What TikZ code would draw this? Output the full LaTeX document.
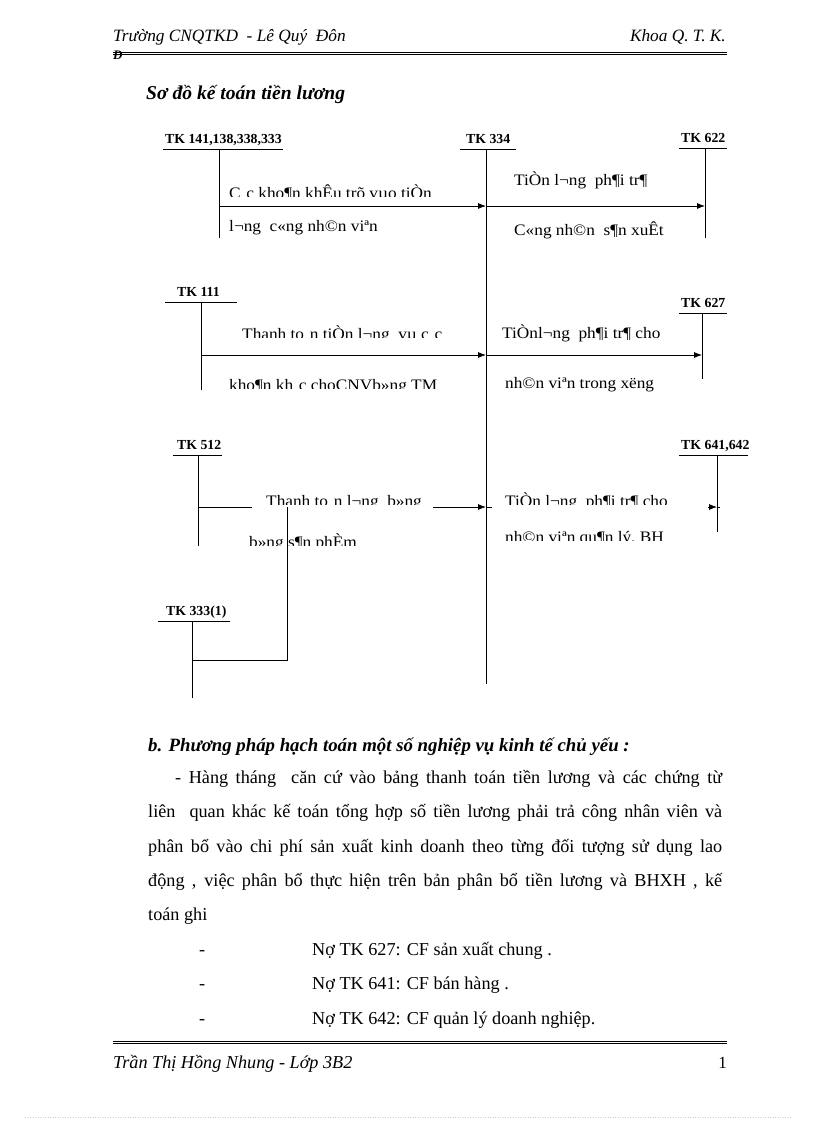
\documentclass[tikz,border=0pt]{standalone}
\usepackage{fontspec}
\setmainfont{Liberation Serif}
\newfontfamily\lblfont[FakeStretch=1.08]{Liberation Serif}
\usetikzlibrary{arrows.meta}
\newcommand\cliplbl[4]{%
  \begin{scope}
    \clip (#2-3,#3-2) rectangle (#2+260,#3-30);
    \node[lbl] (#1) at (#2,#3) {#4};
  \end{scope}}
\begin{document}
\begin{tikzpicture}[x=1pt,y=-1pt,
  tkl/.style={font=\bfseries\fontsize{13.8}{15}\selectfont, anchor=base west, inner sep=0pt},
  lbl/.style={font=\lblfont\fontsize{16}{18}\selectfont, anchor=base west, inner sep=0pt},
  body/.style={font=\fontsize{18.2}{20}\selectfont, anchor=base west, inner sep=0pt},
  hdr/.style={font=\itshape\fontsize{17.3}{19}\selectfont, inner sep=0pt},
  acc/.style={line width=0.8pt},
  arr/.style={line width=0.8pt, -{Latex[length=8pt,width=6pt]}}]
\useasboundingbox (0,0) rectangle (816,1123);
\fill[white] (0,0) rectangle (816,1123);

% ---------- header ----------
\node[hdr, anchor=base west] (hl) at (113,42) {Trường CNQTKD \ - Lê Quý \ Đôn};
\node[hdr, anchor=base east] (hr) at (726,42) {Khoa Q. T. K.};
\coordinate (h1) at (113,52.3); \coordinate (h2) at (727,52.3);
\coordinate (h3) at (113,54.8); \coordinate (h4) at (727,54.8);
\draw[line width=1pt] (h1) -- (h2);
\draw[line width=0.6pt] (h3) -- (h4);
\node[font=\bfseries\itshape\fontsize{13}{14}\selectfont, anchor=base west, inner sep=0pt] (hd) at (113,60) {Đ};

% ---------- title ----------
\node[font=\bfseries\itshape\fontsize{19.6}{21}\selectfont, anchor=base west, inner sep=0pt] (title) at (146,100) {Sơ đồ kế toán tiền lương};

% ---------- T accounts ----------
% TK 141,138,338,333
\node[tkl] (tA) at (165,144) {TK 141,138,338,333};
\coordinate (uA1) at (163,149); \coordinate (uA2) at (283,149);
\coordinate (vA1) at (219,149); \coordinate (vA2) at (219,238);
\draw[acc] (uA1) -- (uA2); \draw[acc] (vA1) -- (vA2);
% TK 334
\node[tkl] (tB) at (466,144) {TK 334};
\coordinate (uB1) at (460,149); \coordinate (uB2) at (516,149);
\coordinate (vB1) at (486,149); \coordinate (vB2) at (486,684);
\draw[acc] (uB1) -- (uB2); \draw[acc] (vB1) -- (vB2);
% TK 622
\node[tkl] (tC) at (681,143) {TK 622};
\coordinate (uC1) at (679,148); \coordinate (uC2) at (727,148);
\coordinate (vC1) at (705,148); \coordinate (vC2) at (705,238);
\draw[acc] (uC1) -- (uC2); \draw[acc] (vC1) -- (vC2);
% TK 111
\node[tkl] (tD) at (177,296) {TK 111};
\coordinate (uD1) at (165,302); \coordinate (uD2) at (237,302);
\coordinate (vD1) at (201,302); \coordinate (vD2) at (201,390);
\draw[acc] (uD1) -- (uD2); \draw[acc] (vD1) -- (vD2);
% TK 627
\node[tkl] (tE) at (681,307) {TK 627};
\coordinate (uE1) at (679,313); \coordinate (uE2) at (727,313);
\coordinate (vE1) at (702,313); \coordinate (vE2) at (702,379);
\draw[acc] (uE1) -- (uE2); \draw[acc] (vE1) -- (vE2);
% TK 512
\node[tkl] (tF) at (177,449) {TK 512};
\coordinate (uF1) at (173,455); \coordinate (uF2) at (222,455);
\coordinate (vF1) at (198,455); \coordinate (vF2) at (198,546);
\draw[acc] (uF1) -- (uF2); \draw[acc] (vF1) -- (vF2);
% TK 641,642
\node[tkl] (tG) at (681,449) {TK 641,642};
\coordinate (uG1) at (679,455); \coordinate (uG2) at (748,455);
\coordinate (vG1) at (717,455); \coordinate (vG2) at (717,532);
\draw[acc] (uG1) -- (uG2); \draw[acc] (vG1) -- (vG2);
% TK 333(1)
\node[tkl] (tH) at (166,615) {TK 333(1)};
\coordinate (uH1) at (158,621); \coordinate (uH2) at (230,621);
\coordinate (vH1) at (192,621); \coordinate (vH2) at (192,698);
\draw[acc] (uH1) -- (uH2); \draw[acc] (vH1) -- (vH2);

% ---------- row 1 ----------
\coordinate (a1s) at (219,206); \coordinate (a1m) at (486,206); \coordinate (a1e) at (705,206);
\draw[arr] (a1s) -- (a1m);
\draw[arr] (a1m) -- (a1e);
\cliplbl{l1a}{229}{199}{C¸c kho¶n khÊu trõ vµo tiÒn}
\node[lbl] (l1b) at (229,232) {l¬ng \ c«ng nh©n viªn};
\node[lbl] (l1c) at (514,186) {TiÒn l¬ng \ ph¶i tr¶};
\node[lbl] (l1d) at (514,236) {C«ng nh©n \ s¶n xuÊt};

% ---------- row 2 ----------
\coordinate (a2s) at (201,355); \coordinate (a2m) at (486,355); \coordinate (a2e) at (702,355);
\draw[arr] (a2s) -- (a2m);
\draw[arr] (a2m) -- (a2e);
\cliplbl{l2a}{242}{339}{Thanh to¸n tiÒn l¬ng \ vµ c¸c}
\cliplbl{l2b}{229}{390}{kho¶n kh¸c choCNVb»ng TM}
\node[lbl] (l2c) at (502,338) {TiÒnl¬ng \ ph¶i tr¶ cho};
\node[lbl] (l2d) at (505,388) {nh©n viªn trong xëng};

% ---------- row 3 ----------
\coordinate (a3s) at (198,507); \coordinate (a3g1) at (252,507);
\coordinate (a3g2) at (433,507); \coordinate (a3m) at (486,507);
\draw[acc] (a3s) -- (a3g1);
\draw[arr] (a3g2) -- (a3m);
\coordinate (a3r1) at (492,507); \coordinate (a3r2) at (708,507);
\coordinate (a3e) at (717,507); \coordinate (a3x) at (720,507);
\draw[acc] (a3m) -- (a3r1);
\draw[acc] (a3e) -- (a3x);
\draw[arr] (a3r2) -- (a3e);
\cliplbl{l3a}{266}{506}{Thanh to¸n l¬ng \ b»ng}
\cliplbl{l3b}{249}{547}{b»ng s¶n phÈm}
\cliplbl{l3c}{505}{506}{TiÒn l¬ng \ ph¶i tr¶ cho}
\cliplbl{l3d}{505}{542}{nh©n viªn qu¶n lý, BH}
% branch to TK 333(1)
\coordinate (b1) at (287,507); \coordinate (b2) at (287,660); \coordinate (b3) at (192,660);
\draw[acc] (b1) -- (b2) -- (b3);

% ---------- body text ----------
\node[font=\bfseries\itshape\fontsize{18.8}{20}\selectfont, anchor=base west, inner sep=0pt] (sec) at (148,751)
  {b. Phương pháp hạch toán một số nghiệp vụ kinh tế chủ yếu :};
\node[body] (p1) at (175,783) {\hbox to 547pt{- Hàng tháng \ căn cứ vào bảng thanh toán tiền lương và các chứng từ}};
\node[body] (p2) at (148,817) {\hbox to 574pt{liên \ quan khác kế toán tổng hợp số tiền lương phải trả công nhân viên và}};
\node[body] (p3) at (148,852) {\hbox to 574pt{phân bổ vào chi phí sản xuất kinh doanh theo từng đối tượng sử dụng lao}};
\node[body] (p4) at (148,886) {\hbox to 574pt{động , việc phân bổ thực hiện trên bản phân bổ tiền lương và BHXH , kế}};
\node[body] (p5) at (148,920) {toán ghi};
\node[body] (d1) at (199,955) {-};
\node[body] (n1) at (312,955) {Nợ TK 627: CF sản xuất chung .};
\node[body] (d2) at (199,989) {-};
\node[body] (n2) at (312,989) {Nợ TK 641: CF bán hàng .};
\node[body] (d3) at (199,1024) {-};
\node[body] (n3) at (312,1024) {Nợ TK 642: CF quản lý doanh nghiệp.};

% ---------- footer ----------
\coordinate (f1) at (113,1041); \coordinate (f2) at (727,1041);
\coordinate (f3) at (113,1043.5); \coordinate (f4) at (727,1043.5);
\draw[line width=0.6pt] (f1) -- (f2);
\draw[line width=1pt] (f3) -- (f4);
\node[font=\itshape\fontsize{18.2}{20}\selectfont, anchor=base west, inner sep=0pt] (fl) at (113,1068) {Trần Thị Hồng Nhung - Lớp 3B2};
\node[font=\fontsize{17}{19}\selectfont, anchor=base east, inner sep=0pt] (fr) at (727,1068) {1};
\coordinate (g1) at (25,1117); \coordinate (g2) at (792,1117);
\draw[gray!40, line width=0.5pt, dotted] (g1) -- (g2);
\end{tikzpicture}
\end{document}
